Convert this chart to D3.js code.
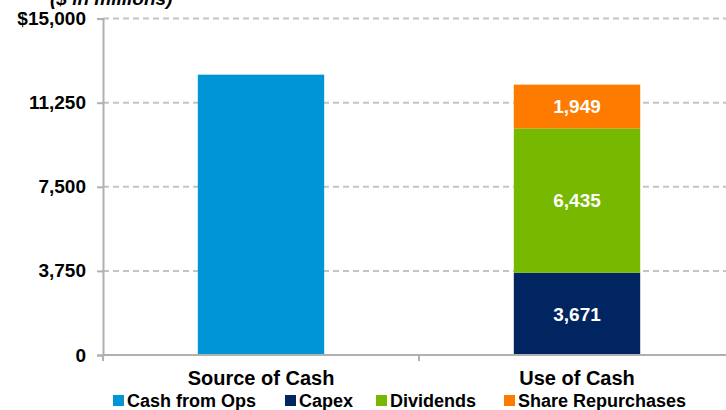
<!DOCTYPE html>
<html>
<head>
<meta charset="utf-8">
<script src="https://cdn.jsdelivr.net/npm/d3@7"></script>
<style>
  html, body { margin: 0; padding: 0; background: #fff; }
  svg { display: block; font-family: "Liberation Sans", Arial, sans-serif; }
</style>
</head>
<body>
<svg id="chart" width="726" height="410"></svg>
<script>
const categories = ["Source of Cash", "Use of Cash"];
const seriesNames = ["Cash from Ops", "Capex", "Dividends", "Share Repurchases"];
const seriesColors = ["#0096d6", "#002561", "#76b900", "#ff7b00"];
// values per series, for [Source of Cash, Use of Cash]
const cashFromOps = [12500, 0];
const capex = [0, 3671];
const dividends = [0, 6435];
const shareRepurchases = [0, 1949];
const yTicks = [0, 3750, 7500, 11250, 15000];
const yTickLabels = ["0", "3,750", "7,500", "11,250", "$15,000"];
const unitLabel = "($ in millions)";

const svg = d3.select("#chart");
const x = d3.scaleBand().domain(categories).range([103, 735]).padding(0);
const y = d3.scaleLinear().domain([0, 15000]).range([355, 18.6]);
const barW = x.bandwidth() * 0.4;

// gridlines
svg.append("g").selectAll("line").data(yTicks.filter(d => d > 0)).join("line")
  .attr("x1", 103).attr("x2", 726)
  .attr("y1", d => y(d)).attr("y2", d => y(d))
  .attr("stroke", "#c4c4c4").attr("stroke-width", 2)
  .attr("stroke-dasharray", "6,4");

// stacked data
const rows = categories.map((c, i) => ({
  category: c,
  "Cash from Ops": cashFromOps[i],
  "Capex": capex[i],
  "Dividends": dividends[i],
  "Share Repurchases": shareRepurchases[i]
}));
const stack = d3.stack().keys(seriesNames)(rows);
const color = d3.scaleOrdinal().domain(seriesNames).range(seriesColors);

const layers = svg.append("g").selectAll("g").data(stack).join("g")
  .attr("fill", d => color(d.key));
layers.selectAll("rect").data(d => d.filter(s => s[1] - s[0] > 0)).join("rect")
  .attr("x", d => x(d.data.category) + (x.bandwidth() - barW) / 2)
  .attr("width", barW)
  .attr("y", d => y(d[1]))
  .attr("height", d => y(d[0]) - y(d[1]));

// data labels on Use of Cash segments
const labeled = ["Capex", "Dividends", "Share Repurchases"];
stack.filter(s => labeled.includes(s.key)).forEach(s => {
  s.filter(d => d[1] - d[0] > 0).forEach(d => {
    svg.append("text")
      .attr("x", x(d.data.category) + x.bandwidth() / 2)
      .attr("y", y((d[0] + d[1]) / 2))
      .attr("dy", "0.36em")
      .attr("text-anchor", "middle")
      .attr("fill", "#fff")
      .attr("font-weight", "bold")
      .attr("font-size", "19px")
      .text(d3.format(",")(d[1] - d[0]));
  });
});

// y axis
const yAxis = d3.axisLeft(y).tickValues(yTicks)
  .tickFormat((d, i) => yTickLabels[i]).tickSize(6).tickPadding(11);
const gy = svg.append("g").attr("transform", "translate(103,0)").call(yAxis);
gy.select(".domain").attr("stroke", "#b0b0b0").attr("stroke-width", 2);
gy.selectAll(".tick line").attr("stroke", "#b0b0b0").attr("stroke-width", 2);
gy.selectAll(".tick text").attr("font-size", "19px").attr("font-weight", "bold")
  .attr("fill", "#000").attr("font-family", "'Liberation Sans', Arial, sans-serif");

// x axis
const gx = svg.append("g").attr("transform", "translate(0,355)")
  .call(d3.axisBottom(x).tickSize(0).tickPadding(16));
gx.select(".domain").attr("d", "M103,0H726").attr("stroke", "#b0b0b0").attr("stroke-width", 2);
gx.selectAll(".tick text").attr("font-size", "20px").attr("font-weight", "bold")
  .attr("fill", "#000").attr("font-family", "'Liberation Sans', Arial, sans-serif");
// category divider ticks
svg.append("g").selectAll("line").data([categories[0], categories[1]]).join("line")
  .attr("x1", d => x(d)).attr("x2", d => x(d))
  .attr("y1", 355).attr("y2", 361)
  .attr("stroke", "#b0b0b0").attr("stroke-width", 2);

// unit label (cut at top, as in the reference)
svg.append("text").attr("x", 50).attr("y", 5)
  .attr("font-size", "19px").attr("font-weight", "bold").attr("font-style", "italic")
  .attr("fill", "#000").text(unitLabel);

// legend
const legendX = [113, 285, 376, 504];
const lg = svg.append("g").selectAll("g").data(seriesNames).join("g")
  .attr("transform", (d, i) => `translate(${legendX[i]},0)`);
lg.append("rect").attr("x", 0).attr("y", 395).attr("width", 11).attr("height", 11)
  .attr("fill", d => color(d));
lg.append("text").attr("x", 14).attr("y", 407)
  .attr("font-size", "18px").attr("font-weight", "bold").attr("fill", "#000")
  .text(d => d);
</script>
</body>
</html>
